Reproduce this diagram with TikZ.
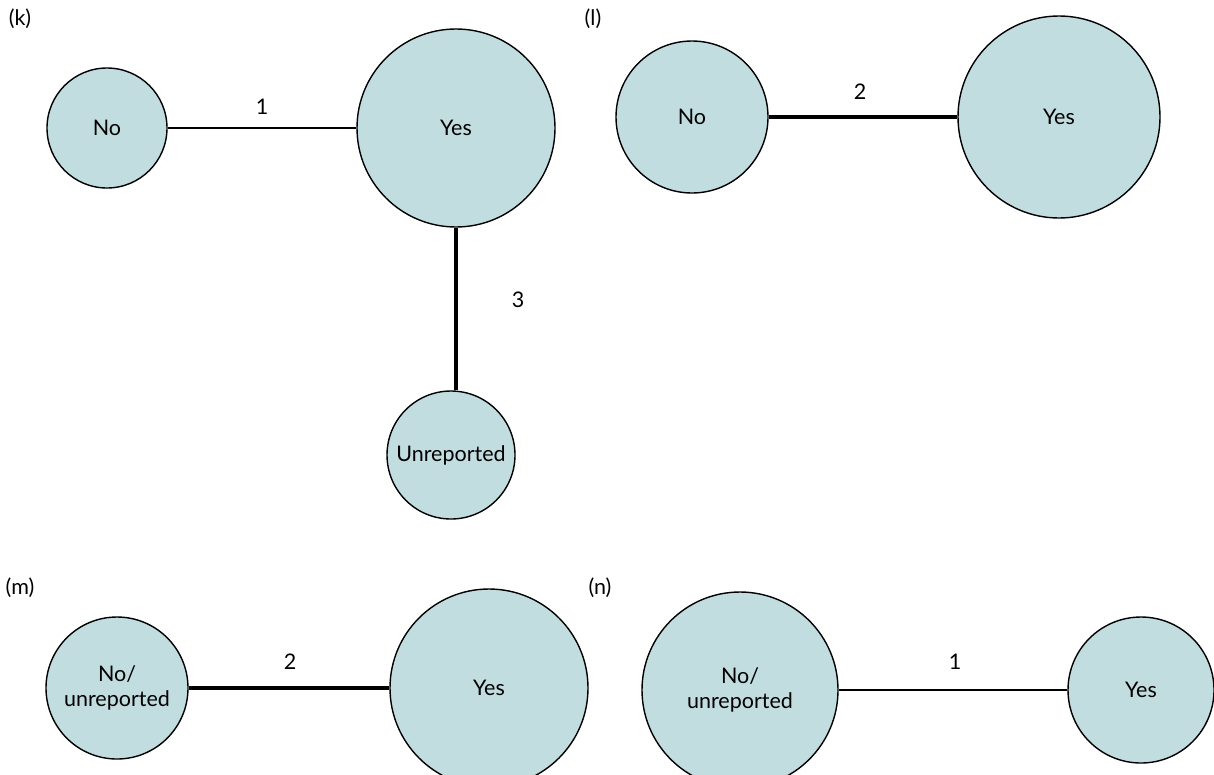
\documentclass[tikz,border=0pt]{standalone}
\usepackage{fontspec}
\setmainfont{Lato}
\definecolor{nodefill}{HTML}{C2DDE0}
\begin{document}
\begin{tikzpicture}[x=1pt,y=-1pt,
  vnode/.style={circle,draw=black,line width=1.4pt,fill=nodefill,inner sep=0pt,align=center,font=\fontsize{21.5}{25}\selectfont},
  thinedge/.style={line width=1.2pt},
  thickedge/.style={line width=3.6pt},
  elabel/.style={font=\fontsize{21.5}{25}\selectfont},
  plabel/.style={font=\fontsize{21.5}{25}\selectfont}]
\useasboundingbox (0,0) rectangle (1214,774);
\clip (0,0) rectangle (1214,774);
% (k)
\node[plabel] (pk) at (20,19) {(k)};
\node[vnode,minimum size=120pt] (kno) at (107,128) {No};
\node[vnode,minimum size=198pt] (kyes) at (456,128) {Yes};
\node[vnode,minimum size=128pt] (kun) at (451,455) {Unreported};
\draw[thickedge] (kyes.south) -- (kyes.south |- kun.north);
\draw[thinedge] (kno) -- (kyes) node[elabel,midway,above=10pt] (l1) {1};
\node[elabel] (l3) at (518,300) {3};
% (l)
\node[plabel] (pl) at (593,19) {(l)};
\node[vnode,minimum size=152pt] (lno) at (692,117) {No};
\node[vnode,minimum size=202pt] (lyes) at (1059,117) {Yes};
\draw[thickedge] (lno) -- (lyes);
\node[elabel] (l2) at (860,92) {2};
% (m)
\node[plabel] (pm) at (20,588) {(m)};
\node[vnode,minimum size=142pt] (mno) at (117,688) {No/\\unreported};
\node[vnode,minimum size=198pt] (myes) at (489,688) {Yes};
\draw[thickedge] (mno) -- (myes);
\node[elabel] (l4) at (290,662) {2};
% (n)
\node[plabel] (pn) at (600,588) {(n)};
\node[vnode,minimum size=196pt] (nno) at (740,690) {No/\\unreported};
\node[vnode,minimum size=146pt] (nyes) at (1141,690) {Yes};
\draw[thinedge] (nno) -- (nyes);
\node[elabel] (l5) at (955,662) {1};
\end{tikzpicture}
\end{document}
